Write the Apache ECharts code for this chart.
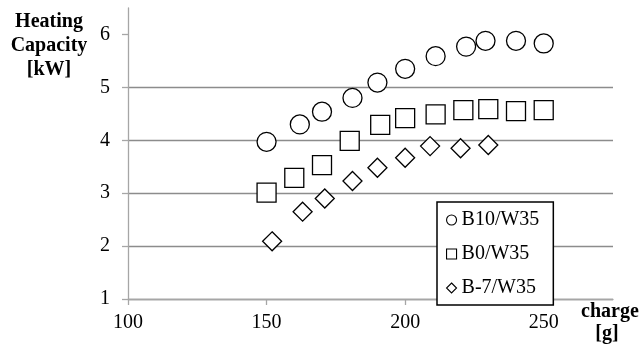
<!DOCTYPE html>
<html>
<head>
<meta charset="utf-8">
<script src="https://cdn.jsdelivr.net/npm/echarts@6/dist/echarts.min.js"></script>
<style>html,body{margin:0;padding:0;background:#fff;}#c{width:641px;height:347px;}</style>
</head>
<body>
<div id="c"></div>
<script>
const seriesNames = ['B10/W35', 'B0/W35', 'B-7/W35'];
const b10X = [150, 162, 170, 181, 190, 200, 211, 222, 229, 240, 250];
const b10Y = [3.97, 4.30, 4.54, 4.80, 5.09, 5.35, 5.59, 5.77, 5.88, 5.88, 5.83];
const b0X = [150, 160, 170, 180, 191, 200, 211, 221, 230, 240, 250];
const b0Y = [3.01, 3.29, 3.53, 3.99, 4.29, 4.42, 4.49, 4.57, 4.59, 4.55, 4.57];
const bm7X = [152, 163, 171, 181, 190, 200, 209, 220, 230];
const bm7Y = [2.09, 2.65, 2.90, 3.23, 3.48, 3.67, 3.89, 3.85, 3.91];
const xTicks = [100, 150, 200, 250];
const yTicks = [1, 2, 3, 4, 5, 6];

const pairs = (xs, ys) => xs.map((x, i) => [x, ys[i]]);
const font = 'Liberation Serif, Times New Roman, serif';
const chart = echarts.init(document.getElementById('c'), null, {renderer: 'canvas'});
const mk = (name, data, symbol) => ({
  name, type: 'scatter', data, symbol, symbolSize: 19,
  itemStyle: {color: '#ffffff', borderColor: '#000000', borderWidth: 1.3, opacity: 1},
  emphasis: {disabled: true}, z: 3
});
chart.setOption({
  animation: false,
  grid: {left: 128, right: 28, top: 8, bottom: 48, containLabel: false},
  xAxis: {
    type: 'value', min: xTicks[0], max: 275, interval: 50,
    axisLine: {show: true, lineStyle: {color: '#a6a6a6', width: 1.3}},
    axisTick: {show: true, inside: false, length: 6, customValues: xTicks, lineStyle: {color: '#a6a6a6', width: 1.3}},
    axisLabel: {show: true, margin: 14, fontFamily: font, fontSize: 20, color: '#000',
      customValues: xTicks},
    splitLine: {show: false}
  },
  yAxis: {
    type: 'value', min: yTicks[0], max: 6.5, interval: 1,
    axisLine: {show: true, lineStyle: {color: '#a6a6a6', width: 1.3}},
    axisTick: {show: true, inside: false, length: 6, customValues: yTicks, lineStyle: {color: '#a6a6a6', width: 1.3}},
    axisLabel: {show: true, margin: 18, fontFamily: font, fontSize: 20, color: '#000',
      customValues: yTicks},
    splitLine: {show: true, showMaxLine: false, lineStyle: {color: '#8c8c8c', width: 1.3}}
  },
  legend: {
    show: true, orient: 'vertical', left: 437, top: 202,
    backgroundColor: '#ffffff', borderColor: '#000000', borderWidth: 1.5,
    padding: [8, 14, 7, 9], itemGap: 14, itemWidth: 10, itemHeight: 10,
    symbolKeepAspect: true,
    textStyle: {fontFamily: font, fontSize: 20, color: '#000', lineHeight: 20},
    itemStyle: {borderWidth: 1.1},
    data: seriesNames
  },
  graphic: [
    {type: 'text', style: {text: 'Heating', font: 'bold 20px ' + font, fill: '#000', textAlign: 'center', textVerticalAlign: 'middle'}, x: 49, y: 22},
    {type: 'text', style: {text: 'Capacity', font: 'bold 20px ' + font, fill: '#000', textAlign: 'center', textVerticalAlign: 'middle'}, x: 49, y: 46},
    {type: 'text', style: {text: '[kW]', font: 'bold 20px ' + font, fill: '#000', textAlign: 'center', textVerticalAlign: 'middle'}, x: 49, y: 70},
    {type: 'text', style: {text: 'charge', font: 'bold 20px ' + font, fill: '#000', textAlign: 'center', textVerticalAlign: 'middle'}, x: 610, y: 312},
    {type: 'text', style: {text: '[g]', font: 'bold 20px ' + font, fill: '#000', textAlign: 'center', textVerticalAlign: 'middle'}, x: 607, y: 334}
  ],
  series: [
    mk(seriesNames[0], pairs(b10X, b10Y), 'circle'),
    mk(seriesNames[1], pairs(b0X, b0Y), 'rect'),
    mk(seriesNames[2], pairs(bm7X, bm7Y), 'diamond')
  ]
});
</script>
</body>
</html>
